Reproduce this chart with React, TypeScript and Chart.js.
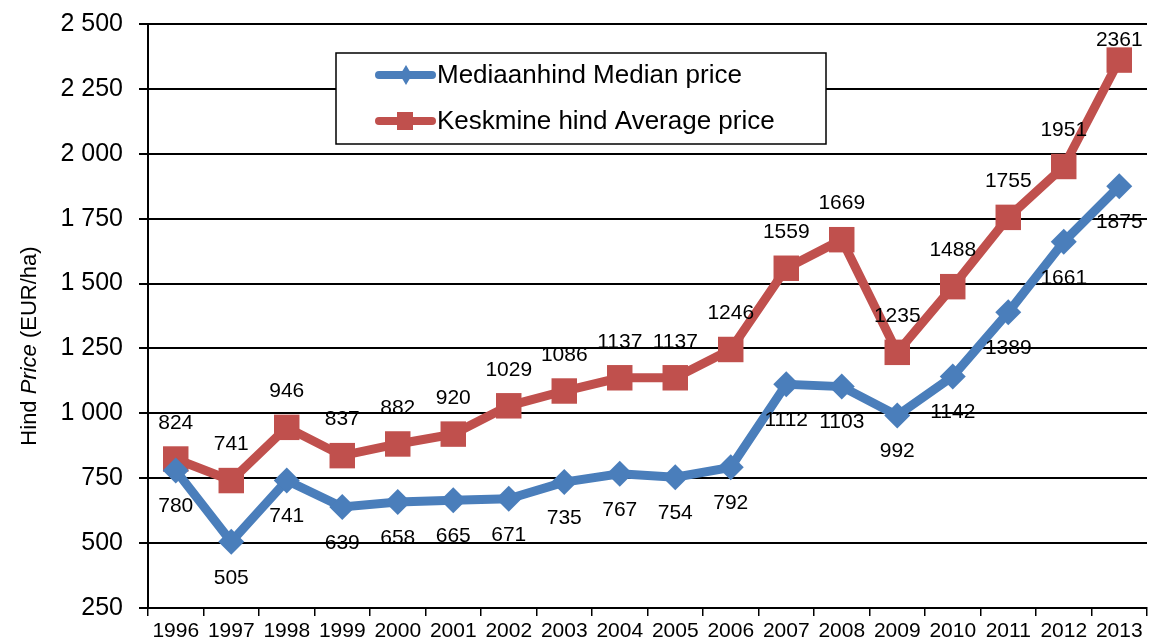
import React, { useEffect, useRef } from "react";
import { Chart, registerables } from "chart.js";

Chart.register(...registerables);

const years = ["1996","1997","1998","1999","2000","2001","2002","2003","2004","2005","2006","2007","2008","2009","2010","2011","2012","2013"];
const medianPrice = [780,505,741,639,658,665,671,735,767,754,792,1112,1103,992,1142,1389,1661,1875];
const averagePrice = [824,741,946,837,882,920,1029,1086,1137,1137,1246,1559,1669,1235,1488,1755,1951,2361];
const medianLabel = "Mediaanhind Median price";
const averageLabel = "Keskmine hind Average price";
const yTicks = [250,500,750,1000,1250,1500,1750,2000,2250,2500];

const BLUE = "#4A7EBB";
const RED = "#C0504D";
const FONT = "'Liberation Sans', Arial, sans-serif";

const fmt = (v: number) => String(v).replace(/\B(?=(\d{3})+(?!\d))/g, " ");

const labelsPlugin = {
  id: "customLabels",
  afterDatasetsDraw(chart: any) {
    const ctx = chart.ctx;
    const top = chart.chartArea.top;
    ctx.save();
    ctx.font = `21px ${FONT}`;
    ctx.fillStyle = "#000";
    ctx.textAlign = "center";
    ctx.textBaseline = "middle";
    chart.data.datasets.forEach((ds: any, di: number) => {
      const meta = chart.getDatasetMeta(di);
      meta.data.forEach((pt: any, i: number) => {
        const dy = di === 0 ? 36 : -36;
        const y = Math.max(top + 16, pt.y + dy);
        ctx.fillText(String(ds.data[i]), pt.x, y);
      });
    });
    ctx.restore();
  },
  afterDraw(chart: any) {
    const ctx = chart.ctx;
    ctx.save();
    // legend box
    const bx = 336, by = 53, bw = 490, bh = 91;
    ctx.fillStyle = "#fff";
    ctx.fillRect(bx, by, bw, bh);
    ctx.strokeStyle = "#000";
    ctx.lineWidth = 1.5;
    ctx.strokeRect(bx, by, bw, bh);
    const items = [
      { label: medianLabel, color: BLUE, shape: "diamond", y: 75 },
      { label: averageLabel, color: RED, shape: "square", y: 121 },
    ];
    items.forEach((it) => {
      ctx.strokeStyle = it.color;
      ctx.lineWidth = 8;
      ctx.lineCap = "round";
      ctx.beginPath();
      ctx.moveTo(379, it.y);
      ctx.lineTo(432, it.y);
      ctx.stroke();
      ctx.fillStyle = it.color;
      if (it.shape === "diamond") {
        ctx.beginPath();
        ctx.moveTo(406, it.y - 10);
        ctx.lineTo(412, it.y);
        ctx.lineTo(406, it.y + 10);
        ctx.lineTo(400, it.y);
        ctx.closePath();
        ctx.fill();
      } else {
        ctx.fillRect(397, it.y - 9, 16, 18);
      }
      ctx.fillStyle = "#000";
      ctx.font = `26px ${FONT}`;
      ctx.textAlign = "left";
      ctx.textBaseline = "middle";
      ctx.fillText(it.label, 437, it.y + 1);
    });
    // y title
    ctx.translate(30, 346);
    ctx.rotate(-Math.PI / 2);
    ctx.textBaseline = "middle";
    ctx.textAlign = "left";
    const parts = [
      { t: "Hind ", f: `22px ${FONT}` },
      { t: "Price", f: `italic 22px ${FONT}` },
      { t: " (EUR/ha)", f: `22px ${FONT}` },
    ];
    let total = 0;
    parts.forEach((p) => { ctx.font = p.f; total += ctx.measureText(p.t).width; });
    let x = -total / 2;
    ctx.fillStyle = "#000";
    parts.forEach((p) => { ctx.font = p.f; ctx.fillText(p.t, x, 0); x += ctx.measureText(p.t).width; });
    ctx.restore();
  },
};

export default function App() {
  const ref = useRef<HTMLCanvasElement>(null);
  useEffect(() => {
    const chart = new Chart(ref.current!, {
      type: "line",
      data: {
        labels: years,
        datasets: [
          {
            label: medianLabel,
            data: medianPrice,
            borderColor: BLUE,
            backgroundColor: BLUE,
            borderWidth: 9,
            pointStyle: "rectRot",
            pointRadius: 13,
            pointBorderWidth: 0,
            tension: 0,
            clip: false,
          },
          {
            label: averageLabel,
            data: averagePrice,
            borderColor: RED,
            backgroundColor: RED,
            borderWidth: 9,
            pointStyle: "rect",
            pointRadius: 18,
            pointBorderWidth: 0,
            tension: 0,
            clip: false,
          },
        ],
      },
      options: {
        responsive: false,
        animation: false,
        layout: { autoPadding: false, padding: { top: 24, right: 14, left: 0, bottom: 0 } },
        plugins: { legend: { display: false }, tooltip: { enabled: false } },
        scales: {
          x: {
            offset: true,
            grid: { offset: true, drawOnChartArea: false, drawTicks: true, tickLength: 8, color: "#000", lineWidth: 1.5 },
            border: { display: true, color: "#000", width: 2 },
            ticks: { color: "#000", font: { family: FONT, size: 21 }, padding: 3, maxRotation: 0, autoSkip: false },
            afterFit: (s: any) => { s.height = 35; s.paddingLeft = 0; s.paddingRight = 0; },
          },
          y: {
            min: 250,
            max: 2500,
            afterBuildTicks: (s: any) => { s.ticks = yTicks.map((v) => ({ value: v })); },
            grid: { color: "#000", lineWidth: 2, tickLength: 9 },
            border: { display: true, color: "#000", width: 2 },
            ticks: { color: "#000", font: { family: FONT, size: 25 }, padding: 16, callback: (v: any) => fmt(Number(v)) },
            afterFit: (s: any) => { s.width = 148; s.paddingTop = 0; s.paddingBottom = 0; },
          },
        },
      },
      plugins: [labelsPlugin],
    });
    return () => chart.destroy();
  }, []);
  return (
    <div style={{ position: "fixed", left: 0, top: 0, width: 1161, height: 643, background: "#fff" }}>
      <canvas ref={ref} width={1161} height={643} style={{ width: 1161, height: 643 }} />
    </div>
  );
}
